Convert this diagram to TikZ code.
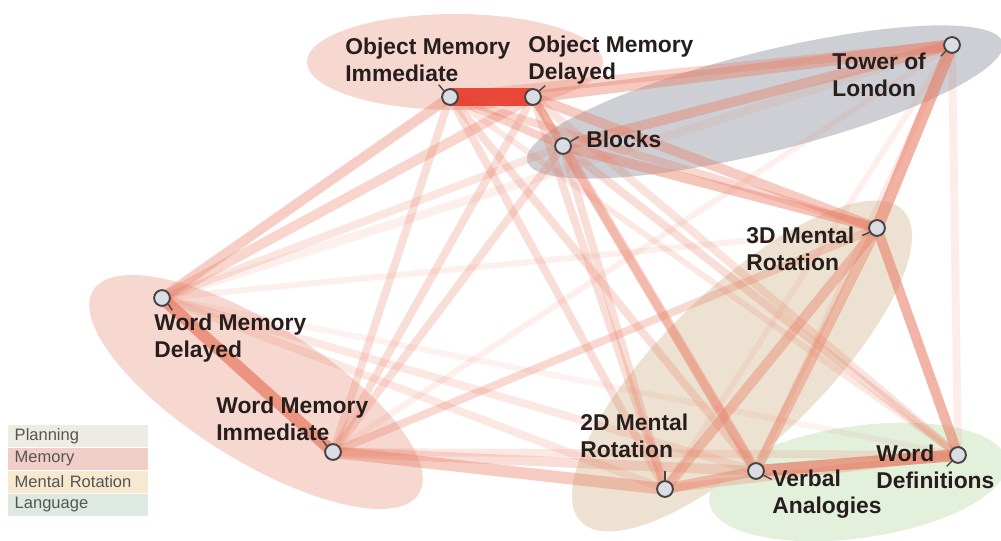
\documentclass[tikz,border=0pt]{standalone}
\usepackage{fontspec}
\setmainfont{Liberation Sans}
\definecolor{linkcol}{RGB}{232,126,102}
\definecolor{linkhot}{RGB}{232,58,42}
\definecolor{memblob}{RGB}{244,206,196}
\definecolor{planblob}{RGB}{184,187,195}
\definecolor{rotblob}{RGB}{232,218,198}
\definecolor{langblob}{RGB}{220,236,210}
\definecolor{circfill}{RGB}{218,221,228}
\definecolor{circline}{RGB}{70,68,66}
\definecolor{labtext}{RGB}{38,30,28}
\definecolor{legtext}{RGB}{85,85,85}
\definecolor{legplan}{RGB}{236,236,228}
\definecolor{legmem}{RGB}{242,206,200}
\definecolor{legrot}{RGB}{247,232,208}
\definecolor{leglang}{RGB}{221,233,225}
\pgfdeclarelayer{blobs}
\pgfdeclarelayer{links}
\pgfsetlayers{blobs,links,main}

\begin{document}
\begin{tikzpicture}[x=0.2mm,y=-0.2mm,test/.style={shape=circle,draw=circline,fill=circfill,line width=1.1pt,inner sep=0pt,minimum size=9pt},lab/.style={anchor=west,align=left,text=labtext,font=\fontsize{13}{15.2}\selectfont\bfseries,inner sep=0pt},tick/.style={draw=circline,line width=0.8pt},link/.style 2 args={draw=linkcol,line width=#1,draw opacity=#2},blob/.style={fill opacity=0.8},legbox/.style={shape=rectangle,minimum height=13pt,text width=72pt,inner xsep=3.7pt,inner ysep=0pt,text=legtext,font=\fontsize{9.4}{11}\selectfont}]
\useasboundingbox (0,0) rectangle (1001,541);

\begin{pgfonlayer}{blobs}
\fill[blob,memblob] (455,62) ellipse (148 and 48);
\fill[blob,memblob,rotate around={-32:(256,392)}] (256,392) ellipse (192 and 68);
\fill[blob,rotblob,rotate around={44:(742,366)}] (742,366) ellipse (224 and 78);
\fill[blob,langblob,rotate around={8:(858,482)}] (858,482) ellipse (150 and 56);
\fill[blob,planblob,fill opacity=0.7,rotate around={14:(765,102)}] (765,102) ellipse (245 and 50);
\end{pgfonlayer}

\node[test] (OMI) at (450,97) {};
\node[test] (OMD) at (533,97) {};
\node[test] (TOL) at (952,45) {};
\node[test] (BLK) at (563,146) {};
\node[test] (M3D) at (877,228) {};
\node[test] (WMD) at (162,298) {};
\node[test] (WMI) at (333,452) {};
\node[test] (M2D) at (665,489) {};
\node[test] (VA) at (756,471) {};
\node[test] (WD) at (958,455) {};

\node[lab] (OMIlab) at (345,60) {Object Memory\\Immediate};
\node[lab] (OMDlab) at (528,60) {Object Memory\\Delayed};
\node[lab] (TOLlab) at (832,75) {Tower of\\London};
\node[lab] (BLKlab) at (586,139) {Blocks};
\node[lab] (M3Dlab) at (746,249) {3D Mental\\Rotation};
\node[lab] (WMDlab) at (154,338) {Word Memory\\Delayed};
\node[lab] (WMIlab) at (216,419) {Word Memory\\Immediate};
\node[lab] (M2Dlab) at (580,436) {2D Mental\\Rotation};
\node[lab] (VAlab) at (772,494) {Verbal\\Analogies};
\node[lab] (WDlab) at (876,467) {Word\\Definitions};

\draw[tick] (OMI.135) -- ++(-5,-6);
\draw[tick] (OMD.45) -- ++(6,-5);
\draw[tick] (TOL.225) -- ++(-5,5);
\draw[tick] (BLK.30) -- ++(8,-5);
\draw[tick] (M3D.210) -- ++(-7,3);
\draw[tick] (WMD.315) -- ++(4,6);
\draw[tick] (WMI.135) -- ++(-4,-5);
\draw[tick] (M2D.north) -- ++(0,-9);
\draw[tick] (VA.330) -- ++(8,4);
\draw[tick] (WD.225) -- ++(-5,5);

\begin{pgfonlayer}{links}
\draw[link={5pt}{.12}] (WMD.center) -- (TOL.center);
\draw[link={3.4pt}{.1}] (WMD.center) -- (WD.center);
\draw[link={3.4pt}{.12}] (WMD.center) -- (M3D.center);
\draw[link={4.5pt}{.18}] (WMD.center) -- (VA.center);
\draw[link={4.5pt}{.18}] (WMD.center) -- (M2D.center);
\draw[link={4.5pt}{.2}] (WMD.center) -- (BLK.center);
\draw[link={3.4pt}{.12}] (WMI.center) -- (TOL.center);
\draw[link={4.5pt}{.18}] (WMI.center) -- (WD.center);
\draw[link={4.5pt}{.3}] (WMI.center) -- (M3D.center);
\draw[link={5.7pt}{.26}] (WMI.center) -- (VA.center);
\draw[link={6.8pt}{.4}] (WMI.center) -- (M2D.center);
\draw[link={4.5pt}{.26}] (WMI.center) -- (OMI.center);
\draw[link={4.5pt}{.26}] (WMI.center) -- (OMD.center);
\draw[link={4.5pt}{.26}] (WMI.center) -- (BLK.center);
\draw[link={5.7pt}{.38}] (OMI.center) -- (WMD.center);
\draw[link={5.7pt}{.32}] (OMD.center) -- (WMD.center);
\draw[link={3.4pt}{.18}] (OMI.center) -- (WD.center);
\draw[link={4.5pt}{.22}] (OMD.center) -- (WD.center);
\draw[link={4.5pt}{.26}] (BLK.center) -- (WD.center);
\draw[link={4.5pt}{.26}] (OMI.center) -- (M2D.center);
\draw[link={4.5pt}{.26}] (OMD.center) -- (M2D.center);
\draw[link={4.5pt}{.26}] (BLK.center) -- (M2D.center);
\draw[link={4.5pt}{.26}] (OMI.center) -- (VA.center);
\draw[link={4.5pt}{.3}] (OMD.center) -- (VA.center);
\draw[link={5.7pt}{.36}] (BLK.center) -- (VA.center);
\draw[link={4.5pt}{.3}] (OMI.center) -- (M3D.center);
\draw[link={5.7pt}{.4}] (OMD.center) -- (M3D.center);
\draw[link={5.7pt}{.45}] (BLK.center) -- (M3D.center);
\draw[link={5.7pt}{.32}] (OMI.center) -- (TOL.center);
\draw[link={6.8pt}{.42}] (OMD.center) -- (TOL.center);
\draw[link={5.7pt}{.42}] (BLK.center) -- (TOL.center);
\draw[link={4.5pt}{.36}] (OMI.center) -- (BLK.center);
\draw[link={4.5pt}{.45}] (OMD.center) -- (BLK.center);
\draw[link={3.4pt}{.16}] (TOL.center) -- (VA.center);
\draw[link={3.4pt}{.12}] (TOL.center) -- (M2D.center);
\draw[link={4.5pt}{.14}] (TOL.center) -- (WD.center);
\draw[link={6.8pt}{.6}] (TOL.center) -- (M3D.center);
\draw[link={5.7pt}{.58}] (M3D.center) -- (WD.center);
\draw[link={5.7pt}{.42}] (M3D.center) -- (VA.center);
\draw[link={5.7pt}{.42}] (M3D.center) -- (M2D.center);
\draw[link={4.5pt}{.28}] (M2D.center) -- (WD.center);
\draw[link={5.7pt}{.42}] (M2D.center) -- (VA.center);
\draw[link={6.8pt}{.7}] (VA.center) -- (WD.center);
\draw[link={6.8pt}{.75}] (WMD.center) -- (WMI.center);
\draw[link={10.5pt}{.9},draw=linkhot] (OMI.center) -- (OMD.center);
\end{pgfonlayer}

\node[legbox,fill=legplan] (legPlan) at (78,436) {Planning};
\node[legbox,fill=legmem] (legMem) at (78,459) {Memory};
\node[legbox,fill=legrot] (legRot) at (78,482) {Mental Rotation};
\node[legbox,fill=leglang] (legLang) at (78,505) {Language};
\end{tikzpicture}
\end{document}
